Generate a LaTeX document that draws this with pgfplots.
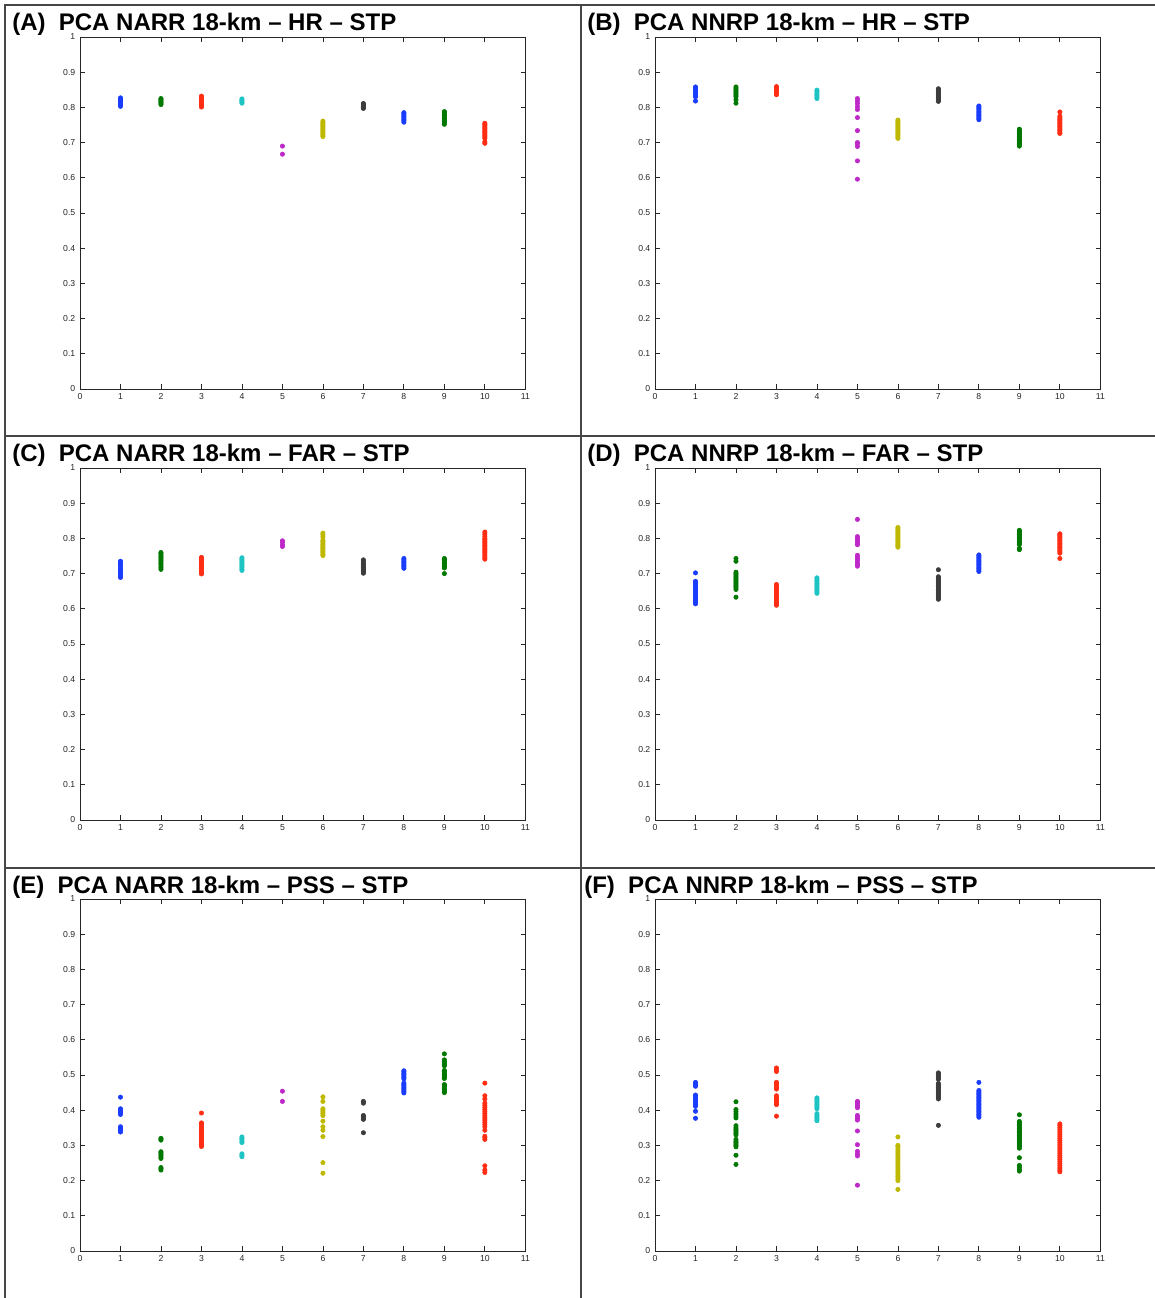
\documentclass[border=0pt]{standalone}
\usepackage{fontspec}
\setmainfont{Liberation Sans}
\usepackage{pgfplots}
\pgfplotsset{compat=1.18}

% MATLAB-like default line colours
\definecolor{mblue}{RGB}{25,60,255}
\definecolor{mgreen}{RGB}{0,120,0}
\definecolor{mred}{RGB}{255,45,20}
\definecolor{mcyan}{RGB}{30,195,195}
\definecolor{mmag}{RGB}{190,40,200}
\definecolor{myel}{RGB}{190,185,0}
\definecolor{mblack}{RGB}{60,60,60}
\definecolor{rulegray}{RGB}{70,70,70}

\pgfplotsset{
  panel/.style={
    scale only axis, width=334pt, height=264pt,
    anchor=south west,
    xmin=0, xmax=11, ymin=0, ymax=1,
    xtick={0,1,2,3,4,5,6,7,8,9,10,11},
    ytick={0,0.1,0.2,0.3,0.4,0.5,0.6,0.7,0.8,0.9,1},
    tick align=inside, major tick length=3.5pt,
    axis line style={black!85, line width=0.7pt},
    every tick/.style={black!85, line width=0.6pt},
    tick label style={font=\fontsize{6.5}{7}\selectfont, text=black!85},
    /pgf/number format/assume math mode=true,
    every axis plot/.append style={only marks, mark=*, mark size=1.65pt},
  },
  c1/.style={mblue},  c2/.style={mgreen}, c3/.style={mred},
  c4/.style={mcyan},  c5/.style={mmag},   c6/.style={myel},
  c7/.style={mblack}, c8/.style={mblue},  c9/.style={mgreen},
  c10/.style={mred},
}
\tikzset{
  ptitle/.style={anchor=base west, font=\fontsize{18}{20}\selectfont\bfseries, inner sep=0pt},
}

\begin{document}
\begin{tikzpicture}
\useasboundingbox (0pt,0pt) rectangle (866.25pt,973.5pt);

% cell rules
\draw[rulegray, line width=1pt] (3.75pt,0pt) -- (3.75pt,969.75pt) -- (866.25pt,969.75pt);
\draw[rulegray, line width=1pt] (435.75pt,0pt) -- (435.75pt,969.75pt);
\draw[rulegray, line width=1pt] (3.75pt,646.5pt) -- (866.25pt,646.5pt);
\draw[rulegray, line width=1pt] (3.75pt,322.5pt) -- (866.25pt,322.5pt);

% titles
\node[ptitle] at (9pt,950.25pt) {(A)~~PCA NARR 18-km – HR – STP};
\node[ptitle] at (440.25pt,950.25pt) {(B)~~PCA NNRP 18-km – HR – STP};
\node[ptitle] at (9pt,627pt) {(C)~~PCA NARR 18-km – FAR – STP};
\node[ptitle] at (440.25pt,627pt) {(D)~~PCA NNRP 18-km – FAR – STP};
\node[ptitle] at (9pt,303pt) {(E)~~PCA NARR 18-km – PSS – STP};
\node[ptitle] at (438pt,303pt) {(F)~~PCA NNRP 18-km – PSS – STP};

% (A) HR, NARR
\begin{axis}[panel, at={(60pt,681.75pt)}]
\addplot[c1] coordinates {(1,.803)(1,.806)(1,.809)(1,.812)(1,.815)(1,.818)(1,.821)(1,.824)(1,.827)};
\addplot[c2] coordinates {(2,.808)(2,.811)(2,.814)(2,.817)(2,.820)(2,.823)(2,.825)};
\addplot[c3] coordinates {(3,.801)(3,.805)(3,.809)(3,.813)(3,.817)(3,.821)(3,.825)(3,.829)(3,.832)};
\addplot[c4] coordinates {(4,.812)(4,.815)(4,.818)(4,.821)(4,.824)};
\addplot[c5] coordinates {(5,.667)(5,.690)};
\addplot[c6] coordinates {(6,.717)(6,.721)(6,.725)(6,.729)(6,.733)(6,.737)(6,.741)(6,.745)(6,.749)(6,.753)(6,.757)(6,.761)};
\addplot[c7] coordinates {(7,.797)(7,.800)(7,.803)(7,.806)(7,.809)(7,.811)};
\addplot[c8] coordinates {(8,.758)(8,.762)(8,.766)(8,.770)(8,.774)(8,.778)(8,.782)(8,.785)};
\addplot[c9] coordinates {(9,.752)(9,.756)(9,.760)(9,.764)(9,.768)(9,.772)(9,.776)(9,.780)(9,.785)(9,.788)};
\addplot[c10] coordinates {(10,.698)(10,.702)(10,.712)(10,.716)(10,.720)(10,.724)(10,.728)(10,.732)(10,.736)(10,.740)(10,.744)(10,.748)(10,.752)(10,.755)};
\end{axis}

% (B) HR, NNRP
\begin{axis}[panel, at={(491.25pt,681.75pt)}]
\addplot[c1] coordinates {(1,.818)(1,.830)(1,.834)(1,.838)(1,.842)(1,.846)(1,.850)(1,.854)(1,.858)};
\addplot[c2] coordinates {(2,.812)(2,.822)(2,.830)(2,.834)(2,.838)(2,.842)(2,.846)(2,.850)(2,.854)(2,.858)};
\addplot[c3] coordinates {(3,.836)(3,.840)(3,.844)(3,.848)(3,.852)(3,.856)(3,.859)};
\addplot[c4] coordinates {(4,.825)(4,.829)(4,.833)(4,.837)(4,.841)(4,.845)(4,.849)};
\addplot[c5] coordinates {(5,.596)(5,.648)(5,.689)(5,.697)(5,.700)(5,.734)(5,.771)(5,.794)(5,.802)(5,.811)(5,.818)(5,.825)};
\addplot[c6] coordinates {(6,.712)(6,.716)(6,.720)(6,.724)(6,.728)(6,.732)(6,.736)(6,.740)(6,.744)(6,.748)(6,.752)(6,.756)(6,.760)(6,.764)};
\addplot[c7] coordinates {(7,.817)(7,.821)(7,.825)(7,.829)(7,.833)(7,.837)(7,.841)(7,.845)(7,.849)(7,.853)};
\addplot[c8] coordinates {(8,.765)(8,.769)(8,.773)(8,.777)(8,.781)(8,.785)(8,.789)(8,.793)(8,.797)(8,.801)(8,.804)};
\addplot[c9] coordinates {(9,.690)(9,.694)(9,.698)(9,.702)(9,.706)(9,.710)(9,.714)(9,.718)(9,.722)(9,.726)(9,.730)(9,.734)(9,.738)};
\addplot[c10] coordinates {(10,.726)(10,.730)(10,.734)(10,.738)(10,.742)(10,.746)(10,.750)(10,.754)(10,.758)(10,.762)(10,.766)(10,.770)(10,.775)(10,.787)};
\end{axis}

% (C) FAR, NARR
\begin{axis}[panel, at={(60pt,358.5pt)}]
\addplot[c1] coordinates {(1,.689)(1,.694)(1,.699)(1,.703)(1,.708)(1,.712)(1,.717)(1,.722)(1,.726)(1,.730)(1,.735)};
\addplot[c2] coordinates {(2,.712)(2,.716)(2,.720)(2,.725)(2,.729)(2,.733)(2,.737)(2,.741)(2,.745)(2,.749)(2,.753)(2,.757)(2,.760)};
\addplot[c3] coordinates {(3,.699)(3,.703)(3,.707)(3,.711)(3,.715)(3,.719)(3,.723)(3,.727)(3,.731)(3,.735)(3,.739)(3,.743)(3,.746)};
\addplot[c4] coordinates {(4,.709)(4,.713)(4,.717)(4,.721)(4,.725)(4,.729)(4,.733)(4,.737)(4,.741)(4,.745)};
\addplot[c5] coordinates {(5,.777)(5,.781)(5,.789)(5,.793)};
\addplot[c6] coordinates {(6,.751)(6,.755)(6,.759)(6,.763)(6,.767)(6,.771)(6,.775)(6,.779)(6,.783)(6,.787)(6,.791)(6,.795)(6,.804)(6,.810)(6,.815)};
\addplot[c7] coordinates {(7,.701)(7,.705)(7,.709)(7,.713)(7,.717)(7,.721)(7,.725)(7,.729)(7,.734)(7,.739)};
\addplot[c8] coordinates {(8,.715)(8,.719)(8,.723)(8,.727)(8,.731)(8,.735)(8,.739)(8,.743)};
\addplot[c9] coordinates {(9,.700)(9,.716)(9,.720)(9,.724)(9,.728)(9,.732)(9,.736)(9,.740)(9,.743)};
\addplot[c10] coordinates {(10,.741)(10,.745)(10,.750)(10,.755)(10,.760)(10,.764)(10,.768)(10,.772)(10,.776)(10,.780)(10,.784)(10,.788)(10,.792)(10,.796)(10,.800)(10,.806)(10,.812)(10,.818)};
\end{axis}

% (D) FAR, NNRP
\begin{axis}[panel, at={(491.25pt,358.5pt)}]
\addplot[c1] coordinates {(1,.614)(1,.618)(1,.622)(1,.626)(1,.630)(1,.634)(1,.638)(1,.642)(1,.646)(1,.650)(1,.654)(1,.658)(1,.662)(1,.666)(1,.670)(1,.674)(1,.678)(1,.702)};
\addplot[c2] coordinates {(2,.633)(2,.655)(2,.660)(2,.664)(2,.668)(2,.672)(2,.676)(2,.680)(2,.684)(2,.688)(2,.692)(2,.696)(2,.700)(2,.704)(2,.735)(2,.743)};
\addplot[c3] coordinates {(3,.610)(3,.614)(3,.618)(3,.622)(3,.626)(3,.630)(3,.634)(3,.638)(3,.642)(3,.646)(3,.650)(3,.654)(3,.658)(3,.662)(3,.666)(3,.669)};
\addplot[c4] coordinates {(4,.644)(4,.648)(4,.652)(4,.656)(4,.660)(4,.664)(4,.668)(4,.672)(4,.676)(4,.680)(4,.684)(4,.688)};
\addplot[c5] coordinates {(5,.721)(5,.726)(5,.731)(5,.737)(5,.742)(5,.747)(5,.752)(5,.782)(5,.787)(5,.792)(5,.797)(5,.801)(5,.805)(5,.854)};
\addplot[c6] coordinates {(6,.775)(6,.779)(6,.783)(6,.787)(6,.791)(6,.795)(6,.799)(6,.803)(6,.807)(6,.811)(6,.815)(6,.819)(6,.823)(6,.827)(6,.831)};
\addplot[c7] coordinates {(7,.627)(7,.631)(7,.635)(7,.639)(7,.643)(7,.647)(7,.651)(7,.655)(7,.659)(7,.663)(7,.667)(7,.671)(7,.675)(7,.679)(7,.683)(7,.687)(7,.691)(7,.711)};
\addplot[c8] coordinates {(8,.706)(8,.710)(8,.714)(8,.718)(8,.722)(8,.726)(8,.730)(8,.734)(8,.738)(8,.742)(8,.746)(8,.750)(8,.753)};
\addplot[c9] coordinates {(9,.768)(9,.772)(9,.783)(9,.787)(9,.791)(9,.795)(9,.799)(9,.803)(9,.807)(9,.811)(9,.815)(9,.819)(9,.823)};
\addplot[c10] coordinates {(10,.743)(10,.758)(10,.762)(10,.766)(10,.770)(10,.774)(10,.778)(10,.782)(10,.786)(10,.790)(10,.794)(10,.798)(10,.802)(10,.806)(10,.810)(10,.813)};
\end{axis}

% (E) PSS, NARR
\begin{axis}[panel, at={(60pt,35.25pt)}]
\addplot[c1] coordinates {(1,.338)(1,.342)(1,.346)(1,.350)(1,.353)(1,.388)(1,.392)(1,.396)(1,.400)(1,.404)(1,.437)};
\addplot[c2] coordinates {(2,.230)(2,.234)(2,.237)(2,.263)(2,.267)(2,.271)(2,.275)(2,.279)(2,.282)(2,.315)(2,.318)(2,.320)};
\addplot[c3] coordinates {(3,.297)(3,.301)(3,.305)(3,.309)(3,.313)(3,.317)(3,.321)(3,.325)(3,.329)(3,.333)(3,.337)(3,.341)(3,.345)(3,.349)(3,.353)(3,.357)(3,.361)(3,.364)(3,.392)};
\addplot[c4] coordinates {(4,.268)(4,.272)(4,.276)(4,.308)(4,.312)(4,.316)(4,.320)(4,.324)};
\addplot[c5] coordinates {(5,.425)(5,.454)};
\addplot[c6] coordinates {(6,.221)(6,.251)(6,.325)(6,.343)(6,.353)(6,.369)(6,.385)(6,.390)(6,.395)(6,.400)(6,.404)(6,.425)(6,.438)};
\addplot[c7] coordinates {(7,.336)(7,.374)(7,.378)(7,.382)(7,.385)(7,.420)(7,.425)};
\addplot[c8] coordinates {(8,.449)(8,.453)(8,.457)(8,.461)(8,.465)(8,.469)(8,.473)(8,.477)(8,.489)(8,.493)(8,.497)(8,.501)(8,.505)(8,.509)(8,.512)};
\addplot[c9] coordinates {(9,.450)(9,.454)(9,.458)(9,.462)(9,.466)(9,.470)(9,.473)(9,.490)(9,.494)(9,.498)(9,.502)(9,.506)(9,.510)(9,.513)(9,.526)(9,.530)(9,.534)(9,.538)(9,.543)(9,.560)};
\addplot[c10] coordinates {(10,.223)(10,.230)(10,.242)(10,.317)(10,.322)(10,.326)(10,.343)(10,.353)(10,.360)(10,.366)(10,.372)(10,.378)(10,.384)(10,.390)(10,.396)(10,.402)(10,.408)(10,.414)(10,.420)(10,.432)(10,.441)(10,.477)};
\end{axis}

% (F) PSS, NNRP
\begin{axis}[panel, at={(491.25pt,35.25pt)}]
\addplot[c1] coordinates {(1,.377)(1,.397)(1,.411)(1,.415)(1,.419)(1,.423)(1,.427)(1,.431)(1,.435)(1,.439)(1,.443)(1,.468)(1,.472)(1,.476)(1,.479)};
\addplot[c2] coordinates {(2,.246)(2,.272)(2,.296)(2,.300)(2,.304)(2,.308)(2,.312)(2,.317)(2,.330)(2,.334)(2,.338)(2,.342)(2,.346)(2,.350)(2,.356)(2,.378)(2,.384)(2,.390)(2,.396)(2,.402)(2,.424)};
\addplot[c3] coordinates {(3,.383)(3,.416)(3,.420)(3,.424)(3,.428)(3,.432)(3,.436)(3,.441)(3,.460)(3,.464)(3,.468)(3,.472)(3,.476)(3,.479)(3,.510)(3,.515)(3,.520)};
\addplot[c4] coordinates {(4,.370)(4,.374)(4,.378)(4,.382)(4,.386)(4,.390)(4,.404)(4,.408)(4,.412)(4,.416)(4,.420)(4,.424)(4,.428)(4,.432)(4,.435)};
\addplot[c5] coordinates {(5,.187)(5,.270)(5,.276)(5,.283)(5,.302)(5,.341)(5,.372)(5,.376)(5,.380)(5,.385)(5,.407)(5,.411)(5,.415)(5,.419)(5,.423)(5,.425)};
\addplot[c6] coordinates {(6,.175)(6,.200)(6,.206)(6,.212)(6,.218)(6,.224)(6,.230)(6,.236)(6,.242)(6,.248)(6,.254)(6,.260)(6,.266)(6,.272)(6,.278)(6,.284)(6,.290)(6,.296)(6,.300)(6,.324)};
\addplot[c7] coordinates {(7,.357)(7,.432)(7,.436)(7,.440)(7,.444)(7,.448)(7,.452)(7,.456)(7,.460)(7,.464)(7,.468)(7,.472)(7,.476)(7,.488)(7,.492)(7,.496)(7,.500)(7,.504)(7,.506)};
\addplot[c8] coordinates {(8,.380)(8,.384)(8,.388)(8,.392)(8,.396)(8,.400)(8,.404)(8,.408)(8,.412)(8,.416)(8,.420)(8,.424)(8,.428)(8,.432)(8,.436)(8,.440)(8,.444)(8,.448)(8,.452)(8,.456)(8,.479)};
\addplot[c9] coordinates {(9,.227)(9,.232)(9,.238)(9,.243)(9,.265)(9,.292)(9,.296)(9,.300)(9,.304)(9,.308)(9,.312)(9,.316)(9,.320)(9,.324)(9,.328)(9,.332)(9,.336)(9,.340)(9,.344)(9,.348)(9,.352)(9,.356)(9,.360)(9,.364)(9,.368)(9,.387)};
\addplot[c10] coordinates {(10,.225)(10,.230)(10,.236)(10,.242)(10,.248)(10,.254)(10,.260)(10,.266)(10,.272)(10,.278)(10,.284)(10,.290)(10,.296)(10,.302)(10,.308)(10,.314)(10,.320)(10,.326)(10,.332)(10,.338)(10,.344)(10,.350)(10,.356)(10,.361)};
\end{axis}
\end{tikzpicture}
\end{document}
